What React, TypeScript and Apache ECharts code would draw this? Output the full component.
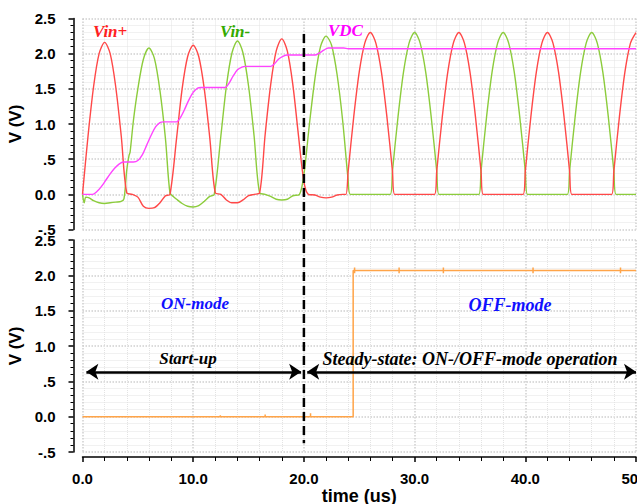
import { useEffect, useRef } from "react";
import * as echarts from "echarts";

// ---- data (time in us, voltage in V) ----
const vinPlus: [number, number][] = [
  [0, 0], [0.5, 0.83], [1, 1.53], [1.5, 2.0], [2, 2.16], [2.5, 2.0], [3, 1.53], [3.5, 0.83], [4, 0.02],
  [4.5, 0], [5, -0.04], [5.5, -0.17], [6, -0.2], [6.5, -0.19], [7, -0.12], [7.5, -0.02], [7.9, 0],
  [8.5, 0.8], [9, 1.5], [9.5, 1.96], [10, 2.12], [10.5, 1.96], [11, 1.5], [11.5, 0.8], [12, 0.02],
  [12.5, 0], [13, -0.08], [13.5, -0.12], [14, -0.12], [14.5, -0.08], [15, -0.02], [15.5, 0], [16, 0.02],
  [16.5, 0.85], [17, 1.56], [17.5, 2.04], [18, 2.21], [18.5, 2.04], [19, 1.56], [19.5, 0.85], [20, 0.18],
  [20.4, 0], [21, -0.01], [21.5, -0.04], [22, -0.05], [22.5, -0.04], [23, -0.01], [23.5, 0], [23.8, 0],
  [24, 0.33], [24.5, 1.1], [25, 1.74], [25.5, 2.15], [26, 2.3], [26.5, 2.15], [27, 1.74], [27.5, 1.1], [28, 0.33], [28.2, 0],
  [31.8, 0], [32, 0.33], [32.5, 1.1], [33, 1.74], [33.5, 2.15], [34, 2.3], [34.5, 2.15], [35, 1.74], [35.5, 1.1], [36, 0.33], [36.2, 0],
  [39.8, 0], [40, 0.33], [40.5, 1.1], [41, 1.74], [41.5, 2.15], [42, 2.3], [42.5, 2.15], [43, 1.74], [43.5, 1.1], [44, 0.33], [44.2, 0],
  [47.8, 0], [48, 0.33], [48.5, 1.1], [49, 1.74], [49.5, 2.15], [50, 2.3],
];

const vinMinus: [number, number][] = [
  [0, 0], [0.15, -0.12], [0.3, -0.04], [0.6, -0.05], [1, -0.09], [1.5, -0.12], [2, -0.13], [2.5, -0.12],
  [3, -0.11], [3.5, -0.1], [3.75, -0.06], [4.0, 0.35], [4.2, 0.55], [4.3, 0.6], [4.6, 1.05], [5, 1.5],
  [5.5, 1.92], [6, 2.08], [6.5, 1.93], [7, 1.47], [7.5, 0.78], [7.9, 0.02], [8.2, -0.03], [8.5, -0.07],
  [9, -0.13], [9.5, -0.17], [10, -0.18], [10.5, -0.16], [11, -0.1], [11.5, -0.03], [11.9, 0],
  [12.5, 0.83], [13, 1.54], [13.5, 2.01], [14, 2.18], [14.5, 2.01], [15, 1.54], [15.5, 0.83], [16, 0.02],
  [16.5, 0], [17, -0.03], [17.5, -0.07], [18, -0.08], [18.5, -0.07], [19, -0.02], [19.6, 0],
  [20, 0.28], [20.5, 1.0], [21, 1.65], [21.5, 2.1], [22, 2.25], [22.5, 2.12], [23, 1.7], [23.5, 1.05], [24, 0.2], [24.2, 0],
  [27.8, 0], [28, 0.33], [28.5, 1.1], [29, 1.74], [29.5, 2.15], [30, 2.3], [30.5, 2.15], [31, 1.74], [31.5, 1.1], [32, 0.33], [32.2, 0],
  [35.8, 0], [36, 0.33], [36.5, 1.1], [37, 1.74], [37.5, 2.15], [38, 2.3], [38.5, 2.15], [39, 1.74], [39.5, 1.1], [40, 0.33], [40.2, 0],
  [43.8, 0], [44, 0.33], [44.5, 1.1], [45, 1.74], [45.5, 2.15], [46, 2.3], [46.5, 2.15], [47, 1.74], [47.5, 1.1], [48, 0.33], [48.2, 0],
  [50, 0],
];

const vdc: [number, number][] = [
  [0, 0], [0.9, 0], [1.3, 0.04], [1.7, 0.11], [2.1, 0.2], [2.5, 0.29], [2.9, 0.37], [3.3, 0.43], [3.7, 0.46],
  [4.6, 0.46], [5.0, 0.48], [5.4, 0.56], [5.8, 0.7], [6.2, 0.84], [6.6, 0.96], [7.0, 1.02], [7.3, 1.03],
  [8.5, 1.03], [8.8, 1.08], [9.2, 1.2], [9.6, 1.34], [10.0, 1.45], [10.4, 1.51], [10.7, 1.52],
  [12.9, 1.52], [13.2, 1.57], [13.6, 1.68], [14.0, 1.77], [14.4, 1.81], [14.7, 1.82],
  [17.0, 1.82], [17.3, 1.85], [17.7, 1.92], [18.1, 1.96], [18.5, 1.98],
  [21.0, 1.98], [21.4, 2.01], [21.8, 2.05], [22.2, 2.08], [23.6, 2.08], [24.0, 2.07], [50, 2.07],
];

const modeOut: [number, number][] = [
  [0, 0], [12.45, 0], [12.45, 0.02], [12.45, 0], [16.5, 0], [16.5, 0.03], [16.5, 0],
  [20.6, 0], [20.6, 0.05], [20.6, 0], [24.45, 0], [24.45, 2.07],
  [24.58, 2.07], [24.58, 2.11], [24.58, 2.03], [24.58, 2.07],
  [28.6, 2.07], [28.6, 2.11], [28.6, 2.03], [28.6, 2.07],
  [32.6, 2.07], [32.6, 2.11], [32.6, 2.03], [32.6, 2.07],
  [40.7, 2.07], [40.7, 2.11], [40.7, 2.03], [40.7, 2.07],
  [48.6, 2.07], [48.6, 2.11], [48.6, 2.03], [48.6, 2.07],
  [50, 2.07],
];

const yTickValues = [-0.5, 0, 0.5, 1, 1.5, 2, 2.5];
const yTickLabels = ["-.5", "0.0", ".5", "1.0", "1.5", "2.0", "2.5"];
const xTickValues = [0, 10, 20, 30, 40, 50];
const xTickLabels = ["0.0", "10.0", "20.0", "30.0", "40.0", "50.0"];

const seriesNames = ["Vin+", "Vin-", "VDC", "Mode"];
const seriesColors = ["#ff4848", "#8ccc3c", "#ff44ff", "#ffa448"];

const dividerTime = 20;
const dividerTopV = 2.28;
const dividerBottomV = -0.376;
const arrowV = 0.635;
const startupArrow = [0.35, 19.75];
const steadyArrow = [20.3, 50.0];

const SANS = "'Liberation Sans', Arial, Helvetica, sans-serif";
const SERIF = "'Liberation Serif', 'Times New Roman', serif";

function lookup(values: number[], labels: string[], v: number) {
  for (let i = 0; i < values.length; i++) if (Math.abs(values[i] - v) < 1e-6) return labels[i];
  return "";
}

export default function App() {
  const ref = useRef<HTMLDivElement>(null);
  useEffect(() => {
    if (!ref.current) return;
    const chart = echarts.init(ref.current, null, { renderer: "svg" });
    const labelFont = { fontFamily: SANS, fontWeight: "bold" as const, fontSize: 15, color: "#000" };

    const mkX = (gi: number, show: boolean) => ({
      type: "value" as const,
      gridIndex: gi,
      min: 0,
      max: 50,
      interval: 10,
      offset: 5,
      axisLine: { show, onZero: false, lineStyle: { color: "#000", width: 1.5 } },
      axisTick: { show, length: 5, lineStyle: { color: "#000", width: 1.5 } },
      minorTick: { show, splitNumber: 5, length: 4, lineStyle: { color: "#000", width: 1 } },
      axisLabel: {
        show,
        margin: 14,
        ...labelFont,
        formatter: (v: number) => lookup(xTickValues, xTickLabels, v),
      },
      splitLine: { show: true, lineStyle: { color: "#cfcfcf", type: "dotted" as const, width: 1.5 } },
      minorSplitLine: { show: true, lineStyle: { color: "#e3e3e3", type: "dotted" as const, width: 1 } },
      ...(show
        ? {
            name: "time (us)",
            nameLocation: "middle" as const,
            nameGap: 26,
            nameTextStyle: { fontFamily: SANS, fontWeight: "bold" as const, fontSize: 18, color: "#000" },
          }
        : {}),
    });

    const mkY = (gi: number) => ({
      type: "value" as const,
      gridIndex: gi,
      min: -0.5,
      max: 2.5,
      interval: 0.5,
      offset: 9,
      axisLine: { show: true, onZero: false, lineStyle: { color: "#000", width: 1.5 } },
      axisTick: { show: true, length: 5, lineStyle: { color: "#000", width: 1.5 } },
      minorTick: { show: true, splitNumber: 5, length: 3, lineStyle: { color: "#000", width: 1 } },
      axisLabel: { margin: 18, ...labelFont, formatter: (v: number) => lookup(yTickValues, yTickLabels, v) },
      splitLine: { show: true, lineStyle: { color: "#cfcfcf", type: "dotted" as const, width: 1.5 } },
      minorSplitLine: { show: true, lineStyle: { color: "#e3e3e3", type: "dotted" as const, width: 1 } },
      name: "V (V)",
      nameLocation: "middle" as const,
      nameRotate: 90,
      nameGap: 46,
      nameTextStyle: { fontFamily: SANS, fontWeight: "bold" as const, fontSize: 17, color: "#000" },
    });

    const lineSeries = (i: number, data: [number, number][], gi: number, smooth: number | boolean) => ({
      type: "line" as const,
      name: seriesNames[i],
      xAxisIndex: gi,
      yAxisIndex: gi,
      data,
      showSymbol: false,
      smooth,
      lineStyle: { color: seriesColors[i], width: 1.4 },
      itemStyle: { color: seriesColors[i] },
      clip: false,
    });

    chart.setOption({
      animation: false,
      backgroundColor: "#ffffff",
      grid: [
        { left: 82.5, right: 1, top: 18.5, height: 211, outerBoundsMode: "none", containLabel: false },
        { left: 82.5, right: 1, top: 240, height: 212, outerBoundsMode: "none", containLabel: false },
      ],
      xAxis: [mkX(0, false), mkX(1, true)],
      yAxis: [mkY(0), mkY(1)],
      series: [
        lineSeries(1, vinMinus, 0, 0.3),
        lineSeries(0, vinPlus, 0, 0.3),
        lineSeries(2, vdc, 0, 0.3),
        {
          ...lineSeries(3, modeOut, 1, false),
          lineStyle: { color: seriesColors[3], width: 1.5 },
          markLine: {
            silent: true,
            symbol: ["arrow", "arrow"],
            symbolSize: [12, 12],
            label: { show: false },
            lineStyle: { color: "#000", width: 2.5, type: "solid" },
            data: [
              [{ coord: [startupArrow[0], arrowV] }, { coord: [startupArrow[1], arrowV] }],
              [{ coord: [steadyArrow[0], arrowV] }, { coord: [steadyArrow[1], arrowV] }],
            ],
          },
        },
      ],
    });

    const pTop = chart.convertToPixel({ gridIndex: 0 }, [dividerTime, dividerTopV]) as number[];
    const pBot = chart.convertToPixel({ gridIndex: 1 }, [dividerTime, dividerBottomV]) as number[];

    const annot = (text: string, x: number, y: number, color: string, align: string, size = 16) => ({
      type: "text" as const,
      x,
      y,
      z: 100,
      style: {
        text,
        fill: color,
        font: `italic bold ${size}px ${SERIF}`,
        align,
        verticalAlign: "middle",
      },
    });

    chart.setOption({
      graphic: [
        {
          type: "line",
          z: 90,
          shape: { x1: pTop[0], y1: pTop[1], x2: pBot[0], y2: pBot[1] },
          style: { stroke: "#000", lineWidth: 2.5, lineDash: [9, 5] },
        },
        annot("Vin+", 93, 31, "#ff2020", "left", 17),
        annot("Vin-", 220, 31, "#33aa00", "left", 17),
        annot("VDC", 328, 30, "#ff00ff", "left", 17),
        annot("ON-mode", 195, 303, "#1010ff", "center", 17),
        annot("OFF-mode", 510, 305, "#1010ff", "center", 18),
        annot("Start-up", 188, 358, "#000", "center", 17),
        annot("Steady-state: ON-/OFF-mode operation", 470, 359, "#000", "center", 18),
      ],
    });

    return () => chart.dispose();
  }, []);

  return (
    <div
      ref={ref}
      style={{ position: "fixed", left: 0, top: 0, width: 637, height: 504, background: "#fff" }}
    />
  );
}
